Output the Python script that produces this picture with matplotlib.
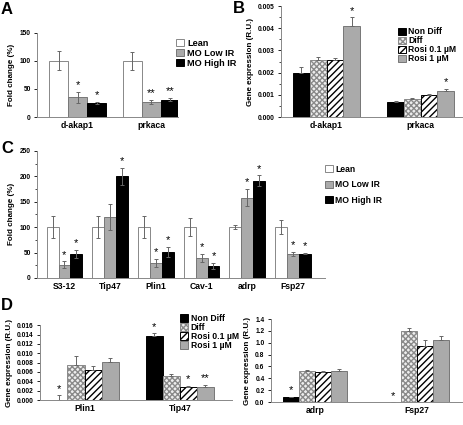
import matplotlib
matplotlib.use("Agg")
import matplotlib.pyplot as plt
import numpy as np

plt.rcParams['font.family'] = ['Liberation Sans', 'DejaVu Sans']
plt.rcParams['font.weight'] = 'bold'

# ---- data ----
a_genes = ['d-akap1', 'prkaca']
a_groups = ['Lean', 'MO Low IR', 'MO High IR']
a_vals = [[100, 100], [35, 27], [25, 31]]
a_errs = [[17, 16], [10, 4], [2, 3]]
a_stars = [['', ''], ['*', '**'], ['*', '**']]

b_genes = ['d-akap1', 'prkaca']
b_groups = ['Non Diff', 'Diff', 'Rosi 0.1 µM', 'Rosi 1 µM']
b_vals = [[0.0020, 0.00068], [0.00255, 0.00082], [0.00255, 0.00098], [0.0041, 0.00118]]
b_errs = [[0.00027, 0.00004], [0.00015, 0.00004], [0.0001, 0.00005], [0.0004, 0.0001]]
b_stars = [['', ''], ['', ''], ['', ''], ['*', '*']]

c_genes = ['S3-12', 'Tip47', 'Plin1', 'Cav-1', 'adrp', 'Fsp27']
c_vals = [[100, 100, 100, 100, 100, 100],
          [26, 120, 30, 40, 158, 47],
          [47, 200, 51, 24, 191, 48]]
c_errs = [[21, 22, 21, 18, 4, 14],
          [7, 25, 8, 8, 17, 4],
          [8, 17, 10, 6, 11, 1]]
c_stars = [['', '', '', '', '', ''],
           ['*', '', '*', '*', '*', '*'],
           ['*', '*', '*', '*', '*', '*']]

d1_genes = ['Plin1', 'Tip47']
d1_vals = [[0.0, 0.0137], [0.0074, 0.0051], [0.0065, 0.0027], [0.0082, 0.0027]]
d1_errs = [[0.001, 0.0006], [0.0021, 0.0004], [0.0008, 0.0004], [0.0008, 0.0006]]
d1_stars = [['*', '*'], ['', ''], ['', '*'], ['', '**']]

d2_genes = ['adrp', 'Fsp27']
d2_vals = [[0.08, 0.0], [0.53, 1.2], [0.50, 0.95], [0.53, 1.05]]
d2_errs = [[0.01, 0.0], [0.005, 0.05], [0.03, 0.1], [0.03, 0.07]]
d2_stars = [['*', '*'], ['', ''], ['', ''], ['', '']]

ir_style = [dict(facecolor='white', edgecolor='#888888'),
            dict(facecolor='#aaaaaa', edgecolor='#777777'),
            dict(facecolor='black', edgecolor='black')]
rosi_style = [dict(facecolor='black', edgecolor='black'),
              dict(facecolor='#eeeeee', edgecolor='#8a8a8a', hatch='xxxxxx'),
              dict(facecolor='white', edgecolor='black', hatch='/////'),
              dict(facecolor='#aaaaaa', edgecolor='#777777')]

TICK = 4.8
CAT = 6.2
YLAB = 5.8
LEG = 6.2


def grouped(ax, genes, vals, errs, stars, styles, width, two_sided, star_pad):
    x = np.arange(len(genes))
    n = len(vals)
    for i in range(n):
        pos = x + (i - (n - 1) / 2) * width
        v = np.array(vals[i])
        e = np.array(errs[i])
        yerr = e if two_sided else [np.zeros_like(e), e]
        ax.bar(pos, v, width, linewidth=0.7, **styles[i])
        ax.errorbar(pos, v, yerr=yerr, fmt='none', ecolor='#666666',
                    elinewidth=0.7, capsize=1.6, capthick=0.7)
        for p, vv, ee, s in zip(pos, v, e, stars[i]):
            if s:
                ax.text(p, vv + ee + star_pad, s, ha='center', va='bottom',
                        fontsize=8, fontweight='normal')
    ax.set_xticks(x)
    ax.set_xticklabels(genes, fontsize=CAT, fontweight='bold')
    ax.tick_params(axis='x', length=0, pad=3)
    ax.tick_params(axis='y', labelsize=TICK, width=0.6, length=2.5, pad=2)
    ax.tick_params(axis='y', which='minor', width=0.5, length=1.5)
    for s in ['top', 'right']:
        ax.spines[s].set_visible(False)
    for s in ['left', 'bottom']:
        ax.spines[s].set_color('#888888')
        ax.spines[s].set_linewidth(0.7)
    for lab in ax.get_yticklabels():
        lab.set_fontweight('bold')


def legend(ax, labels, styles, spacing, bbox, size=LEG):
    handles = [plt.Rectangle((0, 0), 1, 1, linewidth=0.7, **st) for st in styles]
    ax.legend(handles, labels, loc='upper left', bbox_to_anchor=bbox, frameon=False,
              handlelength=0.9, handleheight=0.9, handletextpad=0.3,
              labelspacing=spacing, borderaxespad=0, borderpad=0,
              prop={'weight': 'bold', 'size': size})


fig = plt.figure(figsize=(4.63, 4.25), dpi=100)

# A
axA = fig.add_axes([0.080, 0.7247, 0.305, 0.198])
grouped(axA, a_genes, a_vals, a_errs, a_stars, ir_style, 0.258, True, 3)
axA.set_xlim(-0.551, 1.367)
axA.set_ylim(0, 150)
axA.set_yticks([0, 50, 100, 150])
axA.set_ylabel('Fold change (%)', fontsize=YLAB, fontweight='bold', labelpad=3)
legend(axA, a_groups, ir_style, 0.1, (0.985, 0.93), size=6.6)

# B
axB = fig.add_axes([0.607, 0.7247, 0.391, 0.261])
grouped(axB, b_genes, b_vals, b_errs, b_stars, rosi_style, 0.178, False, 0.00007)
axB.set_xlim(-0.484, 1.44)
axB.set_ylim(0, 0.005)
ticks = np.arange(0, 0.0051, 0.001)
axB.set_yticks(ticks)
axB.set_yticklabels(['%.3f' % t for t in ticks], fontweight='bold')
axB.set_yticks(np.arange(0.0005, 0.005, 0.001), minor=True)
axB.set_ylabel('Gene expression (R.U.)', fontsize=YLAB, fontweight='bold', labelpad=3)
legend(axB, b_groups, rosi_style, 0.0, (0.646, 0.81))

# C
axC = fig.add_axes([0.080, 0.346, 0.622, 0.299])
grouped(axC, c_genes, c_vals, c_errs, c_stars, ir_style, 0.26, True, 3)
axC.set_xlim(-0.60, 5.70)
axC.set_ylim(0, 250)
axC.set_yticks([0, 50, 100, 150, 200, 250])
axC.set_yticks(np.arange(25, 250, 50), minor=True)
axC.set_ylabel('Fold change (%)', fontsize=YLAB, fontweight='bold', labelpad=3)
legend(axC, a_groups, ir_style, 0.75, (1.0, 0.89))

# D left
axD1 = fig.add_axes([0.0864, 0.0588, 0.415, 0.176])
grouped(axD1, d1_genes, d1_vals, d1_errs, d1_stars, rosi_style, 0.18, False, 0.0003)
axD1.set_xlim(-0.468, 1.55)
axD1.set_ylim(0, 0.016)
ticks = np.arange(0, 0.0161, 0.002)
axD1.set_yticks(ticks)
axD1.set_yticklabels(['%.3f' % t for t in ticks], fontweight='bold')
axD1.set_ylabel('Gene expression (R.U.)', fontsize=YLAB, fontweight='bold', labelpad=3)
legend(axD1, b_groups, rosi_style, 0.0, (0.73, 1.15))

# D right
axD2 = fig.add_axes([0.585, 0.0541, 0.4125, 0.195])
grouped(axD2, d2_genes, d2_vals, d2_errs, d2_stars, rosi_style, 0.157, False, 0.02)
axD2.set_xlim(-0.43, 1.44)
axD2.set_ylim(0, 1.4)
ticks = np.arange(0, 1.41, 0.2)
axD2.set_yticks(ticks)
axD2.set_yticklabels(['%.1f' % t for t in ticks], fontweight='bold')
axD2.set_ylabel('Gene expression (R.U.)', fontsize=YLAB, fontweight='bold', labelpad=3)

# panel letters
for lab, x, y in [('A', 0.002, 0.995), ('B', 0.502, 0.998), ('C', 0.002, 0.668), ('D', 0.002, 0.298)]:
    fig.text(x, y, lab, fontsize=12, fontweight='bold', va='top', ha='left')

fig.savefig('out.png', dpi=100)
